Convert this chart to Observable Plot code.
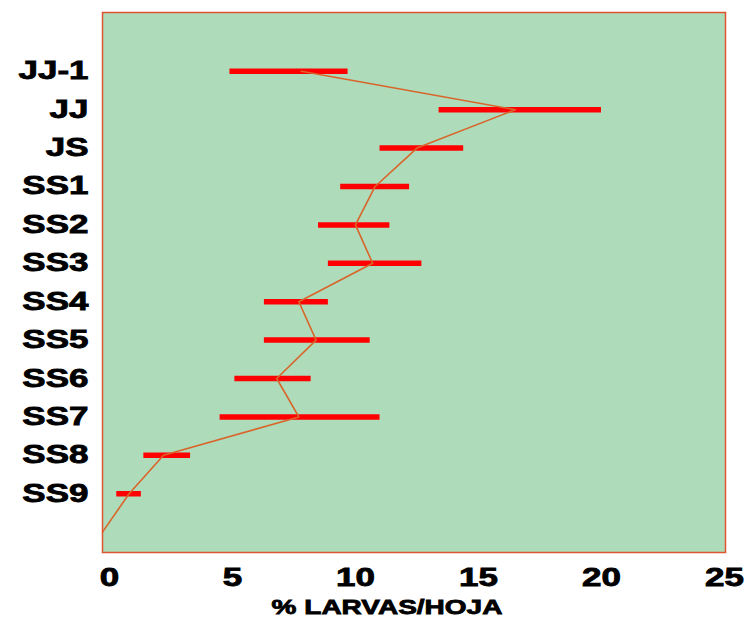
<!DOCTYPE html>
<html>
<head>
<meta charset="utf-8">
<script src="https://cdn.jsdelivr.net/npm/d3@7"></script>
<script src="https://cdn.jsdelivr.net/npm/@observablehq/plot@0.6"></script>
<style>
  html, body { margin: 0; padding: 0; background: #ffffff; }
  #chart svg { display: block; }
</style>
</head>
<body>
<div id="chart"></div>
<script>
// Categories (top to bottom)
const categories = ["JJ-1", "JJ", "JS", "SS1", "SS2", "SS3", "SS4", "SS5", "SS6", "SS7", "SS8", "SS9"];
// Mean % larvae per leaf
const means = [7.8, 16.5, 12.5, 10.8, 10.0, 10.7, 7.7, 8.4, 6.8, 7.7, 2.2, 0.8];
// Error bar extents
const lows  = [4.9, 13.4, 11.0, 9.4, 8.5, 8.9, 6.3, 6.3, 5.1, 4.5, 1.4, 0.3];
const highs = [9.7, 20.0, 14.4, 12.2, 11.4, 12.7, 8.9, 10.6, 8.2, 11.0, 3.3, 1.3];
// Line ends at the left edge, one step below the last category
const originValue = -0.28;
const xTicks = [0, 5, 10, 15, 20, 25];
const xLabel = "% LARVAS/HOJA";

const rows = categories.map((c, i) => ({cat: c, idx: i, mean: means[i], lo: lows[i], hi: highs[i]}));
const linePts = rows.map(d => ({x: d.mean, y: d.idx})).concat([{x: originValue, y: categories.length}]);

const plot = Plot.plot({
  width: 748,
  height: 625,
  marginTop: 12,
  marginBottom: 73,
  marginLeft: 102,
  marginRight: 23,
  style: {fontFamily: "'Liberation Sans', Arial, sans-serif", background: "#ffffff"},
  x: {domain: [-0.28, 25.04], ticks: xTicks, tickSize: 0, tickPadding: 15, label: null},
  y: {domain: [12.53, -1.53], ticks: d3.range(categories.length), tickFormat: i => categories[i], tickSize: 0, tickPadding: 15, label: null},
  marks: [
    Plot.frame({fill: "#aedbb9"}),
    Plot.axisX({ticks: xTicks, tickSize: 0, tickPadding: 16, fontSize: 25, fontWeight: "bold", fill: "#000", label: null}),
    Plot.axisY({ticks: d3.range(categories.length), tickFormat: i => categories[i], tickSize: 0, tickPadding: 14, fontSize: 25, fontWeight: "bold", fill: "#000", label: null}),
    Plot.ruleY(rows, {y: "idx", x1: "lo", x2: "hi", stroke: "#ff0000", strokeWidth: 5.5, strokeLinecap: "butt"}),
    Plot.line(linePts, {x: "x", y: "y", stroke: "#d9652b", strokeWidth: 1.6}),
    Plot.frame({stroke: "#dd5533", strokeWidth: 1.5}),
    Plot.text([xLabel], {frameAnchor: "bottom", dy: 61, dx: -27, fontSize: 20, fontWeight: "bold", fill: "#000"})
  ]
});

// widen the bold lettering to match the extended typeface
plot.querySelectorAll("text").forEach(t => {
  const tr = t.getAttribute("transform");
  if (tr) t.setAttribute("transform", tr + " scale(1.4,1)");
  t.setAttribute("stroke", "#000");
  t.setAttribute("stroke-width", "0.8");
});

document.getElementById("chart").appendChild(plot);
</script>
</body>
</html>
